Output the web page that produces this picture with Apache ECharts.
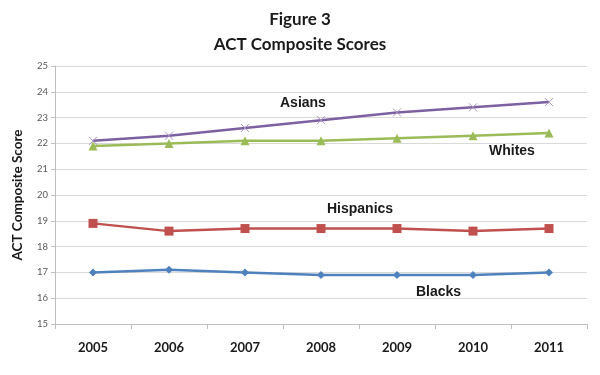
<!DOCTYPE html>
<html>
<head>
<meta charset="utf-8">
<script src="https://cdn.jsdelivr.net/npm/echarts@6/dist/echarts.min.js"></script>
<style>
  html, body { margin: 0; padding: 0; background: #fff; }
  #chart { width: 600px; height: 375px; }
</style>
</head>
<body>
<div id="chart"></div>
<script>
// data
const years = ['2005', '2006', '2007', '2008', '2009', '2010', '2011']
const asians = [22.1, 22.3, 22.6, 22.9, 23.2, 23.4, 23.6]
const whites = [21.9, 22.0, 22.1, 22.1, 22.2, 22.3, 22.4]
const hispanics = [18.9, 18.6, 18.7, 18.7, 18.7, 18.6, 18.7]
const blacks = [17.0, 17.1, 17.0, 16.9, 16.9, 16.9, 17.0]

const myChart = echarts.init(document.getElementById('chart'))

const lineSeries = (name, data, color, symbol, size) => ({
  name: name,
  type: 'line',
  data: data,
  symbol: symbol,
  symbolSize: size,
  lineStyle: { color: color, width: 2.5 },
  itemStyle: { color: color },
  animation: false
})

const seriesLabel = (text, x, y) => ({
  type: 'text',
  left: x,
  top: y,
  style: { text: text, font: 'bold 14px "Liberation Sans", Arial', fill: '#1a1a1a' }
})

// asians use an "x" marker drawn as a stroke
const asianSeries = lineSeries('Asians', asians, '#7d60a0', 'path://M0,0L10,10M10,0L0,10', 8)
asianSeries.itemStyle = { color: 'none', borderColor: '#a593bd', borderWidth: 1 }

myChart.setOption({
  title: {
    text: 'Figure 3\nACT Composite Scores',
    left: 'center',
    top: 2,
    textStyle: { fontFamily: 'Lato', fontWeight: 'bold', fontSize: 17, lineHeight: 25, color: '#1a1a1a' }
  },
  grid: { left: 55, right: 13, top: 66, bottom: 51 },
  xAxis: {
    type: 'category',
    data: years,
    boundaryGap: true,
    axisLine: { lineStyle: { color: '#bfbfbf' } },
    axisTick: { show: true, alignWithLabel: false, length: 5, lineStyle: { color: '#bfbfbf' } },
    axisLabel: { fontFamily: 'Lato', fontWeight: 'bold', fontSize: 13, color: '#1a1a1a', margin: 17 }
  },
  yAxis: {
    type: 'value',
    min: 15,
    max: 25,
    interval: 1,
    name: 'ACT Composite Score',
    nameLocation: 'middle',
    nameGap: 30,
    nameTextStyle: { fontFamily: 'Lato', fontWeight: 'bold', fontSize: 13.5, color: '#1a1a1a' },
    axisLine: { show: true, lineStyle: { color: '#bfbfbf' } },
    axisTick: { show: true, length: 4, lineStyle: { color: '#bfbfbf' } },
    axisLabel: { fontFamily: 'Lato', fontSize: 9.5, color: '#595959', margin: 7 },
    splitLine: { lineStyle: { color: '#d9d9d9', width: 1 } }
  },
  series: [
    asianSeries,
    lineSeries('Whites', whites, '#9bbb59', 'triangle', 9),
    lineSeries('Hispanics', hispanics, '#c0504d', 'rect', 9),
    lineSeries('Blacks', blacks, '#4f81bd', 'diamond', 8)
  ],
  graphic: [
    seriesLabel('Asians', 280, 96),
    seriesLabel('Whites', 489, 144),
    seriesLabel('Hispanics', 327, 202),
    seriesLabel('Blacks', 416, 285)
  ]
})
</script>
</body>
</html>
